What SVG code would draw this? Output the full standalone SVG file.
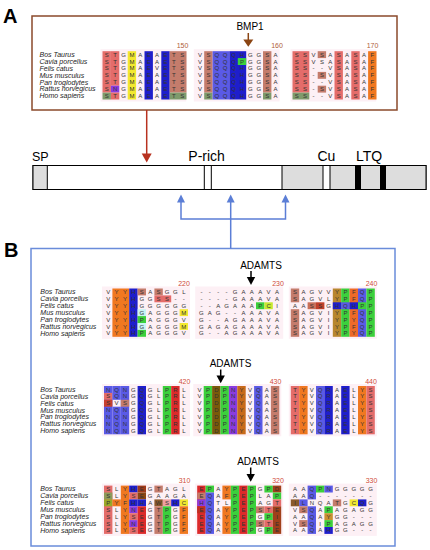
<svg xmlns="http://www.w3.org/2000/svg" width="430" height="550" viewBox="0 0 430 550">
<style>
text{font-family:"Liberation Sans",Arial,sans-serif}
.pl{font-size:20px;font-weight:bold;fill:#000}
.sp{font-size:7px;font-style:italic;fill:#222}
.r{font-size:6px;fill:#333;text-anchor:middle}
.n{font-size:7px;text-anchor:middle}
.na{fill:#B0603A}
.nb{fill:#D04A3A}
.lb{font-size:10px;text-anchor:middle;fill:#000}
.dl{font-size:14px;fill:#000}
.bg{fill:#FDF0F5}
.sal{fill:#E46C6A}
.sbr{fill:#C47C6C}
.org{fill:#F07820}
.yel{fill:#F2E830}
.dbl{fill:#1E1ECC}
.mbl{fill:#5A5AE6}
.pur{fill:#8A3CE0}
.grn{fill:#3CD03C}
.olv{fill:#7A5A0A}
.red{fill:#DC2A2A}
.cya{fill:#C8F4F4}
.gry{fill:#7E9A6C}
.brn{fill:#8B5A2B}
.gld{fill:#B8862E}
.seg{stroke:#000;stroke-width:1}
</style>

<!-- Panel A -->
<g id="panelA">
<text class="pl" x="3" y="23">A</text>
<rect x="32" y="16" width="365" height="94" fill="#fff" stroke="#8B4A2B" stroke-width="1.5"/>
<text class="lb" x="250" y="30">BMP1</text>
</g>

<g id="alignA" transform="translate(0,51.2)">
<rect class="bg" x="100.5" y="-2" width="85.8" height="52.3"/>
<rect class="bg" x="193.8" y="-2" width="85.8" height="52.3"/>
<rect class="bg" x="290.5" y="-2" width="85.8" height="52.3"/>
<rect class="sal" x="102.5" y="0" width="8.4" height="41.4"/>
<rect class="gry" x="102.5" y="41.4" width="8.4" height="6.9"/>
<rect class="sal" x="110.9" y="0" width="8.4" height="34.5"/>
<rect class="pur" x="110.9" y="34.5" width="8.4" height="6.9"/>
<rect class="sal" x="110.9" y="41.4" width="8.4" height="6.9"/>
<rect class="yel" x="127.7" y="0" width="8.4" height="48.3"/>
<rect class="dbl" x="144.5" y="0" width="8.4" height="48.3"/>
<rect class="dbl" x="161.3" y="0" width="8.4" height="48.3"/>
<rect class="sbr" x="169.7" y="0" width="16.8" height="41.4"/>
<rect class="gry" x="169.7" y="41.4" width="16.8" height="6.9"/>
<rect class="sbr" x="204.2" y="0" width="8.4" height="41.4"/>
<rect class="gry" x="204.2" y="41.4" width="8.4" height="6.9"/>
<rect class="mbl" x="212.6" y="0" width="16.8" height="48.3"/>
<rect class="dbl" x="229.4" y="0" width="16.8" height="48.3"/>
<rect class="grn" x="237.8" y="6.9" width="8.4" height="6.9"/>
<rect class="sbr" x="263" y="0" width="8.4" height="41.4"/>
<rect class="gry" x="263" y="41.4" width="8.4" height="6.9"/>
<rect class="sal" x="292.5" y="0" width="16.8" height="41.4"/>
<rect class="gry" x="292.5" y="41.4" width="16.8" height="6.9"/>
<rect class="sbr" x="317.7" y="0" width="8.4" height="6.9"/>
<rect class="sbr" x="317.7" y="20.7" width="8.4" height="6.9"/>
<rect class="sbr" x="317.7" y="34.5" width="8.4" height="6.9"/>
<rect class="sal" x="334.5" y="0" width="8.4" height="48.3"/>
<rect class="sal" x="351.3" y="0" width="8.4" height="48.3"/>
<rect class="org" x="368.1" y="0" width="8.4" height="48.3"/>
<text class="n na" x="182.5" y="-3.7">150</text>
<text class="n na" x="277" y="-3.7">160</text>
<text class="n na" x="372.5" y="-3.7">170</text>
<text class="sp" x="39.5" y="5.8">Bos Taurus</text>
<text class="sp" x="39.5" y="12.7">Cavia porcellus</text>
<text class="sp" x="39.5" y="19.6">Felis catus</text>
<text class="sp" x="39.5" y="26.5">Mus musculus</text>
<text class="sp" x="39.5" y="33.4">Pan troglodytes</text>
<text class="sp" x="39.5" y="40.3">Rattus norvegicus</text>
<text class="sp" x="39.5" y="47.2">Homo sapiens</text>
<text class="r" x="106.7 115.1 123.5 131.9 140.3 148.7 157.1 165.5 173.9 182.3" y="5.5">STGMAEAETS</text>
<text class="r" x="106.7 115.1 123.5 131.9 140.3 148.7 157.1 165.5 173.9 182.3" y="12.4">STGMAEAETS</text>
<text class="r" x="106.7 115.1 123.5 131.9 140.3 148.7 157.1 165.5 173.9 182.3" y="19.3">STGMAEVETS</text>
<text class="r" x="106.7 115.1 123.5 131.9 140.3 148.7 157.1 165.5 173.9 182.3" y="26.2">STGMAEAETS</text>
<text class="r" x="106.7 115.1 123.5 131.9 140.3 148.7 157.1 165.5 173.9 182.3" y="33.1">STGMAEAETS</text>
<text class="r" x="106.7 115.1 123.5 131.9 140.3 148.7 157.1 165.5 173.9 182.3" y="40">SNGMAEAETS</text>
<text class="r" x="106.7 115.1 123.5 131.9 140.3 148.7 157.1 165.5 173.9 182.3" y="46.9">STGMAEAETS</text>
<text class="r" x="200 208.4 216.8 225.2 233.6 242 250.4 258.8 267.2 275.6" y="5.5">VSQQQHGGSA</text>
<text class="r" x="200 208.4 216.8 225.2 233.6 242 250.4 258.8 267.2 275.6" y="12.4">VSQQQPGGSA</text>
<text class="r" x="200 208.4 216.8 225.2 233.6 242 250.4 258.8 267.2 275.6" y="19.3">VSQQQHGGSA</text>
<text class="r" x="200 208.4 216.8 225.2 233.6 242 250.4 258.8 267.2 275.6" y="26.2">VSQQQHGGSA</text>
<text class="r" x="200 208.4 216.8 225.2 233.6 242 250.4 258.8 267.2 275.6" y="33.1">VSQQQHGGSA</text>
<text class="r" x="200 208.4 216.8 225.2 233.6 242 250.4 258.8 267.2 275.6" y="40">VSQQQHGGSA</text>
<text class="r" x="200 208.4 216.8 225.2 233.6 242 250.4 258.8 267.2 275.6" y="46.9">VSQQQHGGSA</text>
<text class="r" x="296.7 305.1 313.5 321.9 330.3 338.7 347.1 355.5 363.9 372.3" y="5.5">SSVSASASAF</text>
<text class="r" x="296.7 305.1 313.5 321.9 330.3 338.7 347.1 355.5 363.9 372.3" y="12.4">SSVSASASAF</text>
<text class="r" x="296.7 305.1 313.5 321.9 330.3 338.7 347.1 355.5 363.9 372.3" y="19.3">SS--VSASAF</text>
<text class="r" x="296.7 305.1 313.5 321.9 330.3 338.7 347.1 355.5 363.9 372.3" y="26.2">SS-SVSASAF</text>
<text class="r" x="296.7 305.1 313.5 321.9 330.3 338.7 347.1 355.5 363.9 372.3" y="33.1">SS--VSASAF</text>
<text class="r" x="296.7 305.1 313.5 321.9 330.3 338.7 347.1 355.5 363.9 372.3" y="40">SS-SVSASAF</text>
<text class="r" x="296.7 305.1 313.5 321.9 330.3 338.7 347.1 355.5 363.9 372.3" y="46.9">SS--VSASAF</text>
</g>

<!-- Protein domain bar -->
<g id="protein">
<rect x="33" y="165.5" width="393" height="24" fill="#fff" class="seg"/>
<rect x="33" y="165.5" width="14.3" height="24" fill="#DDDDDD" class="seg"/>
<rect x="204.3" y="165.5" width="7" height="24" fill="#fff" class="seg"/>
<rect x="282" y="165.5" width="144" height="24" fill="#DDDDDD" class="seg"/>
<rect x="323" y="165.5" width="7" height="24" fill="#fff" class="seg"/>
<rect x="355" y="165.5" width="6" height="24" fill="#000"/>
<rect x="380" y="165.5" width="6" height="24" fill="#000"/>
<text class="dl" x="32" y="161" style="font-size:12.5px">SP</text>
<text class="dl" x="188.3" y="161">P-rich</text>
<text class="dl" x="317.5" y="161">Cu</text>
<text class="dl" x="356" y="161">LTQ</text>
</g>

<!-- Panel B -->
<g id="panelB">
<text class="pl" x="4" y="257">B</text>
<rect x="31" y="248.5" width="364" height="297.5" fill="#fff" stroke="#6A8CDA" stroke-width="1.5"/>
<text class="lb" x="261" y="269">ADAMTS</text>
<text class="lb" x="230.5" y="366.7">ADAMTS</text>
<text class="lb" x="258" y="465">ADAMTS</text>
</g>

<g id="alignB1" transform="translate(0,288.5)">
<rect class="bg" x="102" y="-2" width="88" height="52.3"/>
<rect class="bg" x="195.2" y="-2" width="88" height="52.3"/>
<rect class="bg" x="288.8" y="-2" width="88" height="52.3"/>
<rect class="org" x="112.4" y="0" width="16.8" height="48.3"/>
<rect class="dbl" x="129.2" y="0" width="8.4" height="48.3"/>
<rect class="sbr" x="137.6" y="0" width="8.4" height="6.9"/>
<rect class="cya" x="137.6" y="20.7" width="8.4" height="6.9"/>
<rect class="grn" x="137.6" y="27.6" width="8.4" height="6.9"/>
<rect class="cya" x="137.6" y="34.5" width="8.4" height="6.9"/>
<rect class="grn" x="137.6" y="41.4" width="8.4" height="6.9"/>
<rect class="sbr" x="154.4" y="0" width="8.4" height="6.9"/>
<rect class="sal" x="154.4" y="6.9" width="16.8" height="6.9"/>
<rect class="yel" x="179.6" y="20.7" width="8.4" height="6.9"/>
<rect class="yel" x="179.6" y="34.5" width="8.4" height="6.9"/>
<rect class="grn" x="256" y="13.8" width="8.4" height="6.9"/>
<rect fill="#C8E830" x="264.4" y="13.8" width="8.4" height="6.9"/>
<rect class="sbr" x="290.8" y="0" width="8.4" height="13.8"/>
<rect class="sbr" x="290.8" y="20.7" width="8.4" height="27.6"/>
<rect fill="#C8705A" x="307.6" y="13.8" width="8.4" height="6.9"/>
<rect fill="#C0402A" x="316" y="13.8" width="8.4" height="6.9"/>
<rect class="gld" x="332.8" y="0" width="8.4" height="48.3"/>
<rect class="grn" x="341.2" y="0" width="8.4" height="48.3"/>
<rect fill="#EE6A28" x="349.6" y="0" width="8.4" height="48.3"/>
<rect class="mbl" x="358" y="0" width="8.4" height="48.3"/>
<rect class="grn" x="366.4" y="0" width="8.4" height="48.3"/>
<rect class="dbl" x="332.8" y="13.8" width="8.4" height="6.9"/>
<rect class="mbl" x="341.2" y="13.8" width="8.4" height="6.9"/>
<rect class="dbl" x="349.6" y="13.8" width="8.4" height="6.9"/>
<rect class="grn" x="358" y="13.8" width="8.4" height="6.9"/>
<text class="n nb" x="184" y="-2.5">220</text>
<text class="n nb" x="278" y="-2.5">230</text>
<text class="n nb" x="371.5" y="-2.5">240</text>
<text class="sp" x="40.3" y="5.8">Bos Taurus</text>
<text class="sp" x="40.3" y="12.7">Cavia porcellus</text>
<text class="sp" x="40.3" y="19.6">Felis catus</text>
<text class="sp" x="40.3" y="26.5">Mus musculus</text>
<text class="sp" x="40.3" y="33.4">Pan troglodytes</text>
<text class="sp" x="40.3" y="40.3">Rattus norvegicus</text>
<text class="sp" x="40.3" y="47.2">Homo sapiens</text>
<text class="r" x="108.2 116.6 125 133.4 141.8 150.2 158.6 167 175.4 183.8" y="5.5">VYYHSASGGL</text>
<text class="r" x="108.2 116.6 125 133.4 141.8 150.2 158.6 167 175.4 183.8" y="12.4">VYYHGGSS--</text>
<text class="r" x="108.2 116.6 125 133.4 141.8 150.2 158.6 167 175.4 183.8" y="19.3">VYYHGGGGGG</text>
<text class="r" x="108.2 116.6 125 133.4 141.8 150.2 158.6 167 175.4 183.8" y="26.2">VYYHGAGGGM</text>
<text class="r" x="108.2 116.6 125 133.4 141.8 150.2 158.6 167 175.4 183.8" y="33.1">VYYHPAGGGV</text>
<text class="r" x="108.2 116.6 125 133.4 141.8 150.2 158.6 167 175.4 183.8" y="40">VYYHGAGGGM</text>
<text class="r" x="108.2 116.6 125 133.4 141.8 150.2 158.6 167 175.4 183.8" y="46.9">VYYHPAGGGV</text>
<text class="r" x="201.4 209.8 218.2 226.6 235 243.4 251.8 260.2 268.6 277" y="5.5">----GAAAVA</text>
<text class="r" x="201.4 209.8 218.2 226.6 235 243.4 251.8 260.2 268.6 277" y="12.4">----GAAAVA</text>
<text class="r" x="201.4 209.8 218.2 226.6 235 243.4 251.8 260.2 268.6 277" y="19.3">--AGAAAPCI</text>
<text class="r" x="201.4 209.8 218.2 226.6 235 243.4 251.8 260.2 268.6 277" y="26.2">GAG--AAAVA</text>
<text class="r" x="201.4 209.8 218.2 226.6 235 243.4 251.8 260.2 268.6 277" y="33.1">G--AGAAAVA</text>
<text class="r" x="201.4 209.8 218.2 226.6 235 243.4 251.8 260.2 268.6 277" y="40">GAGAGAAAVA</text>
<text class="r" x="201.4 209.8 218.2 226.6 235 243.4 251.8 260.2 268.6 277" y="46.9">G--AGAAAVA</text>
<text class="r" x="295 303.4 311.8 320.2 328.6 337 345.4 353.8 362.2 370.6" y="5.5">SAGVVYPFQP</text>
<text class="r" x="295 303.4 311.8 320.2 328.6 337 345.4 353.8 362.2 370.6" y="12.4">SAGVLYPFQP</text>
<text class="r" x="295 303.4 311.8 320.2 328.6 337 345.4 353.8 362.2 370.6" y="19.3">AASSGHQHPP</text>
<text class="r" x="295 303.4 311.8 320.2 328.6 337 345.4 353.8 362.2 370.6" y="26.2">SAGVIYPFQP</text>
<text class="r" x="295 303.4 311.8 320.2 328.6 337 345.4 353.8 362.2 370.6" y="33.1">SAGVIYPYQP</text>
<text class="r" x="295 303.4 311.8 320.2 328.6 337 345.4 353.8 362.2 370.6" y="40">SAGVIYPFQP</text>
<text class="r" x="295 303.4 311.8 320.2 328.6 337 345.4 353.8 362.2 370.6" y="46.9">SAGVIYPYQP</text>
</g>

<g id="alignB2" transform="translate(0,386)">
<rect class="bg" x="102" y="-2" width="88" height="52.3"/>
<rect class="bg" x="193.3" y="-2" width="88" height="52.3"/>
<rect class="bg" x="288.8" y="-2" width="88" height="52.3"/>
<rect class="mbl" x="104" y="0" width="8.4" height="48.3"/>
<rect class="sal" x="104" y="6.9" width="8.4" height="6.9"/>
<rect fill="#C8402E" x="104" y="13.8" width="8.4" height="6.9"/>
<rect class="mbl" x="112.4" y="0" width="8.4" height="13.8"/>
<rect class="mbl" x="112.4" y="20.7" width="8.4" height="27.6"/>
<rect class="mbl" x="120.8" y="0" width="8.4" height="48.3"/>
<rect class="sbr" x="120.8" y="13.8" width="8.4" height="6.9"/>
<rect class="dbl" x="137.6" y="0" width="8.4" height="48.3"/>
<rect class="grn" x="162.8" y="0" width="8.4" height="48.3"/>
<rect class="red" x="171.2" y="0" width="8.4" height="48.3"/>
<rect class="grn" x="203.7" y="0" width="8.4" height="48.3"/>
<rect class="olv" x="212.1" y="0" width="8.4" height="48.3"/>
<rect class="grn" x="220.5" y="0" width="8.4" height="48.3"/>
<rect class="pur" x="228.9" y="0" width="8.4" height="48.3"/>
<rect fill="#C86A1A" x="237.3" y="0" width="8.4" height="48.3"/>
<rect class="mbl" x="254.1" y="0" width="8.4" height="48.3"/>
<rect class="sbr" x="270.9" y="0" width="8.4" height="48.3"/>
<rect class="sal" x="290.8" y="0" width="8.4" height="48.3"/>
<rect class="org" x="299.2" y="0" width="8.4" height="48.3"/>
<rect class="mbl" x="316" y="0" width="8.4" height="48.3"/>
<rect class="dbl" x="324.4" y="0" width="8.4" height="48.3"/>
<rect class="dbl" x="341.2" y="0" width="8.4" height="48.3"/>
<rect class="org" x="358" y="0" width="8.4" height="48.3"/>
<rect class="sal" x="366.4" y="0" width="8.4" height="48.3"/>
<text class="n nb" x="184.5" y="-2.5">420</text>
<text class="n nb" x="275.5" y="-2.5">430</text>
<text class="n nb" x="371" y="-2.5">440</text>
<text class="sp" x="40.3" y="5.8">Bos Taurus</text>
<text class="sp" x="40.3" y="12.7">Cavia porcellus</text>
<text class="sp" x="40.3" y="19.6">Felis catus</text>
<text class="sp" x="40.3" y="26.5">Mus musculus</text>
<text class="sp" x="40.3" y="33.4">Pan troglodytes</text>
<text class="sp" x="40.3" y="40.3">Rattus norvegicus</text>
<text class="sp" x="40.3" y="47.2">Homo sapiens</text>
<text class="r" x="108.2 116.6 125 133.4 141.8 150.2 158.6 167 175.4 183.8" y="5.5">NQNGQGLPRL</text>
<text class="r" x="108.2 116.6 125 133.4 141.8 150.2 158.6 167 175.4 183.8" y="12.4">SQNGQGLPRL</text>
<text class="r" x="108.2 116.6 125 133.4 141.8 150.2 158.6 167 175.4 183.8" y="19.3">SVSGQGLPRL</text>
<text class="r" x="108.2 116.6 125 133.4 141.8 150.2 158.6 167 175.4 183.8" y="26.2">NQNGQGLPRL</text>
<text class="r" x="108.2 116.6 125 133.4 141.8 150.2 158.6 167 175.4 183.8" y="33.1">NQNGQGLPRL</text>
<text class="r" x="108.2 116.6 125 133.4 141.8 150.2 158.6 167 175.4 183.8" y="40">NQNGQGLPRL</text>
<text class="r" x="108.2 116.6 125 133.4 141.8 150.2 158.6 167 175.4 183.8" y="46.9">NQNGQGLPRL</text>
<text class="r" x="199.5 207.9 216.3 224.7 233.1 241.5 249.9 258.3 266.7 275.1" y="5.5">VPDPNYVQAS</text>
<text class="r" x="199.5 207.9 216.3 224.7 233.1 241.5 249.9 258.3 266.7 275.1" y="12.4">VPDPNYVQAS</text>
<text class="r" x="199.5 207.9 216.3 224.7 233.1 241.5 249.9 258.3 266.7 275.1" y="19.3">VPDPNYVQAS</text>
<text class="r" x="199.5 207.9 216.3 224.7 233.1 241.5 249.9 258.3 266.7 275.1" y="26.2">VPDPNYVQAS</text>
<text class="r" x="199.5 207.9 216.3 224.7 233.1 241.5 249.9 258.3 266.7 275.1" y="33.1">VPDPNYVQAS</text>
<text class="r" x="199.5 207.9 216.3 224.7 233.1 241.5 249.9 258.3 266.7 275.1" y="40">VPDPNYVQAS</text>
<text class="r" x="199.5 207.9 216.3 224.7 233.1 241.5 249.9 258.3 266.7 275.1" y="46.9">VPDPNYVQAS</text>
<text class="r" x="295 303.4 311.8 320.2 328.6 337 345.4 353.8 362.2 370.6" y="5.5">TYVQRAELYS</text>
<text class="r" x="295 303.4 311.8 320.2 328.6 337 345.4 353.8 362.2 370.6" y="12.4">TYVQRAELYS</text>
<text class="r" x="295 303.4 311.8 320.2 328.6 337 345.4 353.8 362.2 370.6" y="19.3">TYVQRAELYS</text>
<text class="r" x="295 303.4 311.8 320.2 328.6 337 345.4 353.8 362.2 370.6" y="26.2">TYVQRAELYS</text>
<text class="r" x="295 303.4 311.8 320.2 328.6 337 345.4 353.8 362.2 370.6" y="33.1">TYVQRAELYS</text>
<text class="r" x="295 303.4 311.8 320.2 328.6 337 345.4 353.8 362.2 370.6" y="40">TYVQRAELYS</text>
<text class="r" x="295 303.4 311.8 320.2 328.6 337 345.4 353.8 362.2 370.6" y="46.9">TYVQRAELYS</text>
</g>

<g id="alignB3" transform="translate(0,485.6)">
<rect class="bg" x="102" y="-2" width="88" height="52.3"/>
<rect class="bg" x="195.2" y="-2" width="88" height="52.3"/>
<rect class="bg" x="288.8" y="-2" width="88" height="52.3"/>
<rect class="sal" x="104" y="0" width="8.4" height="48.3"/>
<rect fill="#8E9A5A" x="104" y="6.9" width="8.4" height="6.9"/>
<rect fill="#9AAA28" x="104" y="13.8" width="8.4" height="6.9"/>
<rect class="org" x="112.4" y="13.8" width="8.4" height="6.9"/>
<rect class="org" x="120.8" y="0" width="8.4" height="48.3"/>
<rect class="dbl" x="129.2" y="0" width="8.4" height="6.9"/>
<rect class="sal" x="129.2" y="6.9" width="8.4" height="6.9"/>
<rect class="dbl" x="129.2" y="13.8" width="8.4" height="6.9"/>
<rect class="pur" x="129.2" y="20.7" width="8.4" height="6.9"/>
<rect class="sal" x="129.2" y="27.6" width="8.4" height="6.9"/>
<rect class="pur" x="129.2" y="34.5" width="8.4" height="6.9"/>
<rect class="sal" x="129.2" y="41.4" width="8.4" height="6.9"/>
<rect fill="#A03A1A" x="137.6" y="0" width="8.4" height="6.9"/>
<rect fill="#8B4513" x="137.6" y="6.9" width="8.4" height="6.9"/>
<rect class="dbl" x="137.6" y="13.8" width="8.4" height="6.9"/>
<rect class="red" x="137.6" y="20.7" width="8.4" height="27.6"/>
<rect class="sbr" x="154.4" y="0" width="8.4" height="6.9"/>
<rect class="brn" x="154.4" y="13.8" width="8.4" height="6.9"/>
<rect class="sbr" x="154.4" y="20.7" width="8.4" height="27.6"/>
<rect fill="#F0A0A0" x="162.8" y="13.8" width="8.4" height="6.9"/>
<rect class="grn" x="162.8" y="20.7" width="8.4" height="27.6"/>
<rect class="dbl" x="171.2" y="13.8" width="8.4" height="6.9"/>
<rect class="yel" x="179.6" y="13.8" width="8.4" height="6.9"/>
<rect class="org" x="179.6" y="20.7" width="8.4" height="27.6"/>
<rect class="red" x="197.2" y="0" width="8.4" height="48.3"/>
<rect class="sbr" x="197.2" y="6.9" width="8.4" height="6.9"/>
<rect class="pur" x="197.2" y="13.8" width="8.4" height="6.9"/>
<rect fill="#C03020" x="197.2" y="20.7" width="8.4" height="6.9"/>
<rect class="grn" x="205.6" y="0" width="8.4" height="6.9"/>
<rect class="mbl" x="205.6" y="6.9" width="8.4" height="41.4"/>
<rect class="org" x="222.4" y="0" width="8.4" height="13.8"/>
<rect class="org" x="222.4" y="20.7" width="8.4" height="27.6"/>
<rect class="grn" x="230.8" y="0" width="8.4" height="48.3"/>
<rect class="red" x="239.2" y="0" width="8.4" height="48.3"/>
<rect class="grn" x="247.6" y="0" width="8.4" height="48.3"/>
<rect class="sbr" x="256" y="20.7" width="8.4" height="6.9"/>
<rect class="sbr" x="256" y="34.5" width="8.4" height="6.9"/>
<rect class="grn" x="264.4" y="0" width="8.4" height="6.9"/>
<rect class="sal" x="264.4" y="20.7" width="8.4" height="6.9"/>
<rect class="grn" x="264.4" y="27.6" width="8.4" height="6.9"/>
<rect class="sal" x="264.4" y="34.5" width="8.4" height="6.9"/>
<rect class="grn" x="264.4" y="41.4" width="8.4" height="6.9"/>
<rect fill="#A0401A" x="272.8" y="0" width="8.4" height="6.9"/>
<rect class="grn" x="272.8" y="6.9" width="8.4" height="6.9"/>
<rect class="sal" x="272.8" y="13.8" width="8.4" height="6.9"/>
<rect fill="#A0401A" x="272.8" y="20.7" width="8.4" height="27.6"/>
<rect class="brn" x="290.8" y="13.8" width="8.4" height="6.9"/>
<rect class="mbl" x="299.2" y="13.8" width="8.4" height="6.9"/>
<rect class="sbr" x="299.2" y="20.7" width="8.4" height="6.9"/>
<rect class="sbr" x="299.2" y="34.5" width="8.4" height="6.9"/>
<rect class="mbl" x="307.6" y="0" width="8.4" height="13.8"/>
<rect class="mbl" x="307.6" y="20.7" width="8.4" height="27.6"/>
<rect class="grn" x="316" y="0" width="8.4" height="6.9"/>
<rect class="mbl" x="324.4" y="0" width="8.4" height="6.9"/>
<rect class="grn" x="324.4" y="20.7" width="8.4" height="6.9"/>
<rect fill="#C89030" x="324.4" y="27.6" width="8.4" height="6.9"/>
<rect class="grn" x="324.4" y="34.5" width="8.4" height="6.9"/>
<rect class="dbl" x="324.4" y="41.4" width="8.4" height="6.9"/>
<rect class="sbr" x="332.8" y="13.8" width="8.4" height="6.9"/>
<rect class="yel" x="349.6" y="13.8" width="8.4" height="6.9"/>
<rect class="dbl" x="358" y="13.8" width="8.4" height="6.9"/>
<text class="n nb" x="184.5" y="-2.5">310</text>
<text class="n nb" x="278" y="-2.5">320</text>
<text class="n nb" x="371.5" y="-2.5">330</text>
<text class="sp" x="40.3" y="5.8">Bos Taurus</text>
<text class="sp" x="40.3" y="12.7">Cavia porcellus</text>
<text class="sp" x="40.3" y="19.6">Felis catus</text>
<text class="sp" x="40.3" y="26.5">Mus musculus</text>
<text class="sp" x="40.3" y="33.4">Pan troglodytes</text>
<text class="sp" x="40.3" y="40.3">Rattus norvegicus</text>
<text class="sp" x="40.3" y="47.2">Homo sapiens</text>
<text class="r" x="108.2 116.6 125 133.4 141.8 150.2 158.6 167 175.4 183.8" y="5.5">SLYHEGTAGL</text>
<text class="r" x="108.2 116.6 125 133.4 141.8 150.2 158.6 167 175.4 183.8" y="12.4">SLYSEGAAGA</text>
<text class="r" x="108.2 116.6 125 133.4 141.8 150.2 158.6 167 175.4 183.8" y="19.3">PYFHHAWSHC</text>
<text class="r" x="108.2 116.6 125 133.4 141.8 150.2 158.6 167 175.4 183.8" y="26.2">SLYNEGTPGF</text>
<text class="r" x="108.2 116.6 125 133.4 141.8 150.2 158.6 167 175.4 183.8" y="33.1">SLYSEGTPGF</text>
<text class="r" x="108.2 116.6 125 133.4 141.8 150.2 158.6 167 175.4 183.8" y="40">SLYNEGTPGF</text>
<text class="r" x="108.2 116.6 125 133.4 141.8 150.2 158.6 167 175.4 183.8" y="46.9">SLYSEGTPGF</text>
<text class="r" x="201.4 209.8 218.2 226.6 235 243.4 251.8 260.2 268.6 277" y="5.5">EPAYPEPGPD</text>
<text class="r" x="201.4 209.8 218.2 226.6 235 243.4 251.8 260.2 268.6 277" y="12.4">EQAFPEPLAP</text>
<text class="r" x="201.4 209.8 218.2 226.6 235 243.4 251.8 260.2 268.6 277" y="19.3">HQTLPEPAGT</text>
<text class="r" x="201.4 209.8 218.2 226.6 235 243.4 251.8 260.2 268.6 277" y="26.2">EQAYPEPSTE</text>
<text class="r" x="201.4 209.8 218.2 226.6 235 243.4 251.8 260.2 268.6 277" y="33.1">EQAYPEPGPI</text>
<text class="r" x="201.4 209.8 218.2 226.6 235 243.4 251.8 260.2 268.6 277" y="40">EQAYPEPSTE</text>
<text class="r" x="201.4 209.8 218.2 226.6 235 243.4 251.8 260.2 268.6 277" y="46.9">EQAYPEPGPE</text>
<text class="r" x="295 303.4 311.8 320.2 328.6 337 345.4 353.8 362.2 370.6" y="5.5">AAQPNGGGGG</text>
<text class="r" x="295 303.4 311.8 320.2 328.6 337 345.4 353.8 362.2 370.6" y="12.4">AAQ-------</text>
<text class="r" x="295 303.4 311.8 320.2 328.6 337 345.4 353.8 362.2 370.6" y="19.3">ILNQATGCQG</text>
<text class="r" x="295 303.4 311.8 320.2 328.6 337 345.4 353.8 362.2 370.6" y="26.2">VSQAPAGAGG</text>
<text class="r" x="295 303.4 311.8 320.2 328.6 337 345.4 353.8 362.2 370.6" y="33.1">AAQAYGG---</text>
<text class="r" x="295 303.4 311.8 320.2 328.6 337 345.4 353.8 362.2 370.6" y="40">VSQIPAGAGG</text>
<text class="r" x="295 303.4 311.8 320.2 328.6 337 345.4 353.8 362.2 370.6" y="46.9">AAQAHGG---</text>
</g>

<!-- Connectors -->
<g id="connectors">
<line x1="248.3" y1="33" x2="248.3" y2="40" stroke="#8B4513" stroke-width="1.5"/>
<polygon points="243.3,39.5 253.3,39.5 248.3,46.7" fill="#8B4513"/>
<line x1="146.7" y1="110" x2="146.7" y2="154" stroke="#B83220" stroke-width="1.5"/>
<polygon points="141.7,153.5 151.7,153.5 146.7,162.5" fill="#B83220"/>
<polyline points="181,202 181,219 285.5,219 285.5,202" fill="none" stroke="#5B7ED6" stroke-width="1.5"/>
<line x1="230.7" y1="248.5" x2="230.7" y2="202" stroke="#5B7ED6" stroke-width="1.5"/>
<polygon points="177,202.5 185,202.5 181,194.5" fill="#5B7ED6"/>
<polygon points="226.7,202.5 234.7,202.5 230.7,194.5" fill="#5B7ED6"/>
<polygon points="281.5,202.5 289.5,202.5 285.5,194.5" fill="#5B7ED6"/>
<line x1="251" y1="271" x2="251" y2="277.5" stroke="#000" stroke-width="1.5"/>
<polygon points="246.8,277 255.2,277 251,285" fill="#000"/>
<line x1="220.7" y1="369.5" x2="220.7" y2="376" stroke="#000" stroke-width="1.5"/>
<polygon points="216.5,375.5 224.9,375.5 220.7,383.3" fill="#000"/>
<line x1="250.7" y1="467.5" x2="250.7" y2="474.5" stroke="#000" stroke-width="1.5"/>
<polygon points="246.5,474 254.9,474 250.7,481.7" fill="#000"/>
</g>
</svg>
